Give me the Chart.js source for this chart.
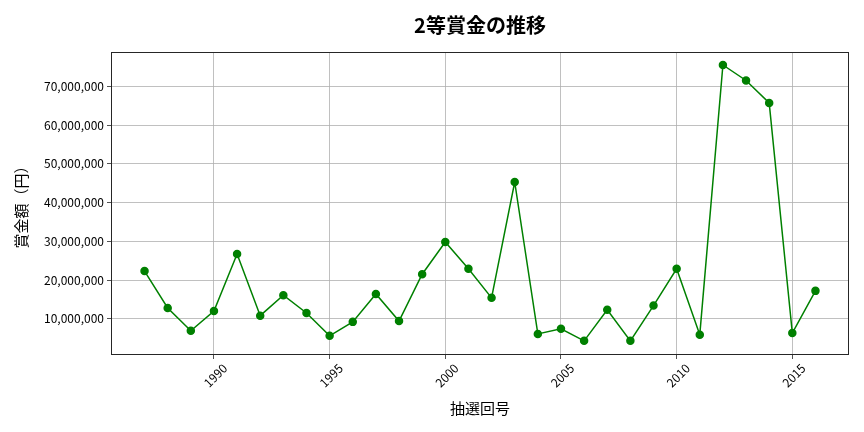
<!DOCTYPE html>
<html lang="ja">
<head>
<meta charset="UTF-8">
<script src="https://cdn.jsdelivr.net/npm/chart.js@4.4.3/dist/chart.umd.min.js"></script>
<style>
    html, body { margin: 0; padding: 0; background: #fff; }
    #wrap { width: 864px; height: 432px; }
</style>
</head>
<body>
<div id="wrap"><canvas id="c"></canvas></div>
<script>
    const years = [1987, 1988, 1989, 1990, 1991, 1992, 1993, 1994, 1995, 1996,
        1997, 1998, 1999, 2000, 2001, 2002, 2003, 2004, 2005, 2006,
        2007, 2008, 2009, 2010, 2011, 2012, 2013, 2014, 2015, 2016];
    const prizes = [22300000, 12800000, 6900000, 12000000, 26700000, 10800000, 16100000, 11500000, 5600000, 9200000,
        16400000, 9400000, 21500000, 29800000, 22900000, 15400000, 45300000, 6100000, 7400000, 4300000,
        12300000, 4300000, 13400000, 22900000, 5900000, 75500000, 71500000, 65700000, 6300000, 17200000];
    const xTicks = [1990, 1995, 2000, 2005, 2010, 2015];
    const yTicks = [10000000, 20000000, 30000000, 40000000, 50000000, 60000000, 70000000];

    const FONT = "'Noto Sans CJK JP', 'Noto Sans', sans-serif";

    // box around the plot area, like matplotlib spines
    const frame = {
        id: "frame",
        afterDatasetsDraw(chart) {
            const { ctx, chartArea: a } = chart;
            ctx.save();
            ctx.strokeStyle = "#262626";
            ctx.lineWidth = 1;
            ctx.strokeRect(Math.round(a.left) + 0.5, Math.round(a.top) + 0.5,
                Math.round(a.width) - 1, Math.round(a.height) - 1);
            ctx.restore();
        }
    };

    new Chart(document.getElementById("c"), {
        type: "line",
        data: {
            datasets: [{
                data: years.map((y, i) => ({ x: y, y: prizes[i] })),
                borderColor: "#008000",
                backgroundColor: "#008000",
                borderWidth: 1.5,
                pointRadius: 3.5,
                pointHoverRadius: 3.5,
                tension: 0
            }]
        },
        options: {
            responsive: true,
            maintainAspectRatio: false,
            animation: false,
            layout: { padding: { left: 0, right: 15, top: 0, bottom: 0 } },
            plugins: {
                legend: { display: false },
                tooltip: { enabled: false },
                title: {
                    display: true,
                    text: "2等賞金の推移",
                    fullSize: false,
                    color: "#000",
                    font: { family: FONT, size: 20, weight: "bold" },
                    padding: { top: 13, bottom: 15 }
                }
            },
            scales: {
                x: {
                    type: "linear",
                    min: 1985.55,
                    max: 2017.45,
                    afterBuildTicks: s => { s.ticks = xTicks.map(v => ({ value: v })); },
                    afterFit: s => { s.height = 77; },
                    border: { display: false },
                    grid: { color: "#b0b0b0", lineWidth: 0.8, tickColor: "#262626", tickLength: 4 },
                    ticks: {
                        autoSkip: false,
                        minRotation: 45,
                        maxRotation: 45,
                        padding: 2,
                        labelOffset: 11,
                        color: "#000",
                        font: { family: FONT, size: 12 },
                        callback: v => String(v)
                    },
                    title: {
                        display: true,
                        text: "抽選回号",
                        color: "#000",
                        font: { family: FONT, size: 15 },
                        padding: { top: 0, bottom: 15 }
                    }
                },
                y: {
                    min: 650000,
                    max: 78850000,
                    afterBuildTicks: s => { s.ticks = yTicks.map(v => ({ value: v })); },
                    afterFit: s => { s.width = 111; },
                    border: { display: false },
                    grid: { color: "#b0b0b0", lineWidth: 0.8, tickColor: "#262626", tickLength: 4 },
                    ticks: {
                        padding: 3,
                        color: "#000",
                        font: { family: FONT, size: 12 },
                        callback: v => v.toLocaleString("en-US")
                    },
                    title: {
                        display: true,
                        text: "賞金額（円）",
                        color: "#000",
                        font: { family: FONT, size: 15 },
                        padding: { top: 12, bottom: 0 }
                    }
                }
            }
        },
        plugins: [frame]
    });
</script>
</body>
</html>
